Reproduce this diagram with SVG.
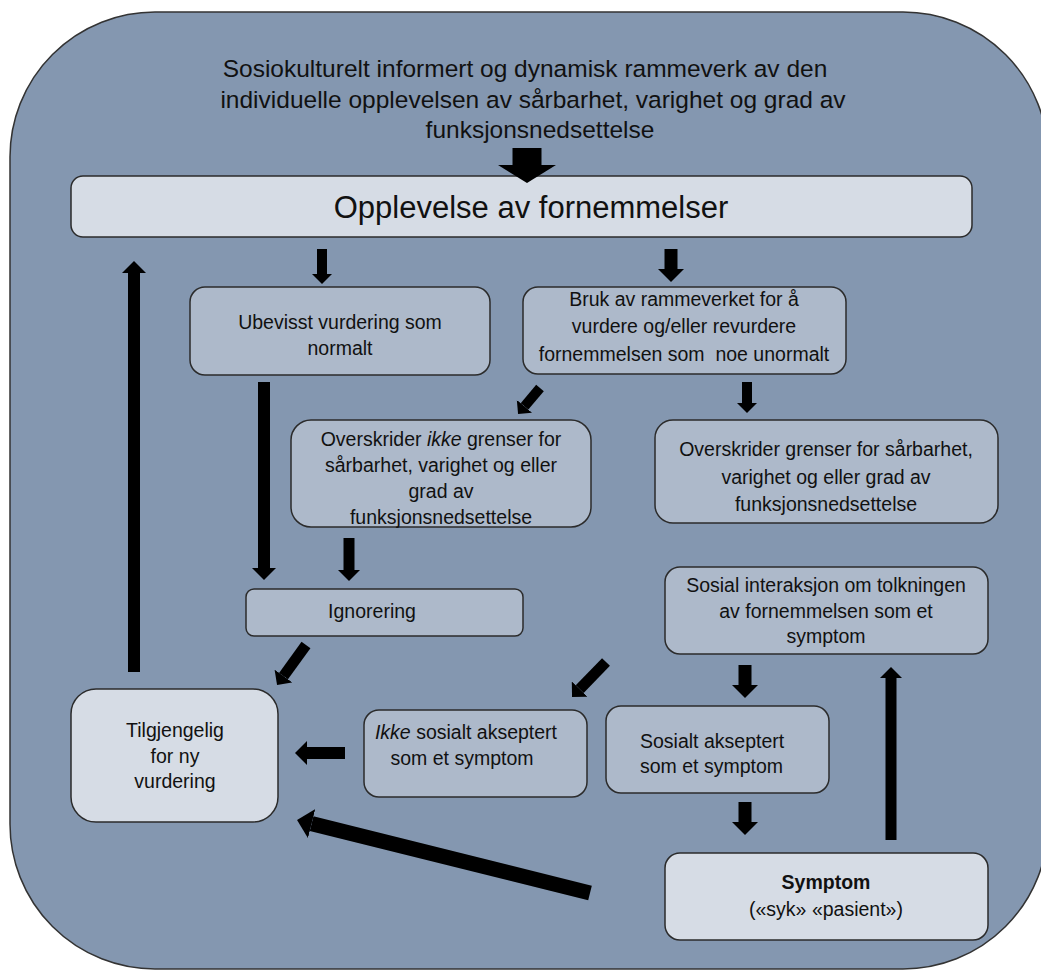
<svg xmlns="http://www.w3.org/2000/svg" width="1041" height="971" viewBox="0 0 1041 971">
<style>
.bg{fill:#8497B0;stroke:#333;stroke-width:1.5}
.n1{fill:#D6DCE5;stroke:#2b2b2b;stroke-width:1.5}
.n2{fill:#ADB9CA;stroke:#2b2b2b;stroke-width:1.5}
text{font-family:"Liberation Sans",Arial,sans-serif;fill:#111;font-size:19.5px;text-anchor:middle}
.title{font-size:24.5px}
.big{font-size:31px}
.c line{stroke:#000}
</style>
<defs>
<marker id="ah" viewBox="0 0 1 2" markerWidth="1" markerHeight="2" refX="0" refY="1" orient="auto" markerUnits="strokeWidth"><path d="M0,0 L1,1 L0,2 Z" fill="#000"/></marker>
<marker id="ahBig" viewBox="0 0 0.62 2" markerWidth="0.62" markerHeight="2" refX="0" refY="1" orient="auto" markerUnits="strokeWidth"><path d="M0,0 L0.62,1 L0,2 Z" fill="#000"/></marker>
</defs>
<rect class="bg" x="10" y="12" width="1038" height="957" rx="145" ry="145"/>
<g id="title">
<text class="title" x="525" y="77">Sosiokulturelt informert og dynamisk rammeverk av den</text>
<text class="title" x="533" y="108">individuelle opplevelsen av sårbarhet, varighet og grad av</text>
<text class="title" x="540" y="138">funksjonsnedsettelse</text>
</g>
<g id="opplevelse"><rect class="n1" x="71" y="176" width="901" height="61" rx="12"/><text class="big" x="531" y="218">Opplevelse av fornemmelser</text></g>
<g id="ubevisst"><rect class="n2" x="190" y="287" width="300" height="88" rx="15"/><text x="340" y="329">Ubevisst vurdering som</text><text x="340" y="355">normalt</text></g>
<g id="bruk"><rect class="n2" x="523" y="287" width="323" height="87" rx="15"/><text x="684" y="306">Bruk av rammeverket for å</text><text x="684" y="333">vurdere og/eller revurdere</text><text x="684" y="361" xml:space="preserve">fornemmelsen som  noe unormalt</text></g>
<g id="ikke-overskrider"><rect class="n2" x="291" y="420" width="300" height="107" rx="20"/><text x="441" y="446">Overskrider <tspan font-style="italic">ikke</tspan> grenser for</text><text x="441" y="472">sårbarhet, varighet og eller</text><text x="441" y="498">grad av</text><text x="441" y="524">funksjonsnedsettelse</text></g>
<g id="overskrider"><rect class="n2" x="655" y="420" width="343" height="103" rx="18"/><text x="826" y="456">Overskrider grenser for sårbarhet,</text><text x="826" y="484">varighet og eller grad av</text><text x="826" y="511">funksjonsnedsettelse</text></g>
<g id="ignorering"><rect class="n2" x="246" y="589" width="277" height="47" rx="8"/><text x="372" y="618">Ignorering</text></g>
<g id="sosial-interaksjon"><rect class="n2" x="665" y="567" width="323" height="87" rx="15"/><text x="826" y="592">Sosial interaksjon om tolkningen</text><text x="826" y="618">av fornemmelsen som et</text><text x="826" y="643">symptom</text></g>
<g id="tilgjengelig"><rect class="n1" x="71" y="689" width="207" height="133" rx="25"/><text x="175" y="737">Tilgjengelig</text><text x="175" y="763">for ny</text><text x="175" y="788">vurdering</text></g>
<g id="ikke-akseptert"><rect class="n2" x="364" y="710" width="223" height="87" rx="15"/><text x="466" y="739"><tspan font-style="italic">Ikke</tspan> sosialt akseptert</text><text x="462" y="765">som et symptom</text></g>
<g id="akseptert"><rect class="n2" x="606" y="706" width="223" height="87" rx="15"/><text x="640" y="748" style="text-anchor:start">Sosialt akseptert</text><text x="640" y="773" style="text-anchor:start">som et symptom</text></g>
<g id="symptom"><rect class="n1" x="665" y="853" width="323" height="87" rx="15"/><text x="826" y="889" font-weight="bold">Symptom</text><text x="826" y="916">(«syk» «pasient»)</text></g>
<g id="connectors" class="c">
<line x1="527" y1="148" x2="527" y2="165" stroke-width="29" marker-end="url(#ahBig)"/>
<line x1="322" y1="249" x2="322" y2="274" stroke-width="10" marker-end="url(#ah)"/>
<line x1="671" y1="249" x2="671" y2="269" stroke-width="13" marker-end="url(#ah)"/>
<line x1="540" y1="388" x2="524.5" y2="406.4" stroke-width="10" marker-end="url(#ah)"/>
<line x1="747" y1="382" x2="747" y2="403" stroke-width="10" marker-end="url(#ah)"/>
<line x1="264" y1="382" x2="264" y2="568" stroke-width="12" marker-end="url(#ah)"/>
<line x1="349" y1="538" x2="349" y2="570" stroke-width="11" marker-end="url(#ah)"/>
<line x1="306" y1="645" x2="283.5" y2="676.1" stroke-width="11" marker-end="url(#ah)"/>
<line x1="134" y1="672" x2="134" y2="273" stroke-width="12" marker-end="url(#ah)"/>
<line x1="345" y1="753" x2="307" y2="753" stroke-width="12" marker-end="url(#ah)"/>
<line x1="606" y1="662" x2="579.7" y2="689.1" stroke-width="11" marker-end="url(#ah)"/>
<line x1="745" y1="665" x2="745" y2="685" stroke-width="13" marker-end="url(#ah)"/>
<line x1="745" y1="802" x2="745" y2="822" stroke-width="13" marker-end="url(#ah)"/>
<line x1="891" y1="840" x2="891" y2="678" stroke-width="11" marker-end="url(#ah)"/>
<line x1="590" y1="893" x2="311.6" y2="823.6" stroke-width="15" marker-end="url(#ah)"/>
</g>
</svg>
